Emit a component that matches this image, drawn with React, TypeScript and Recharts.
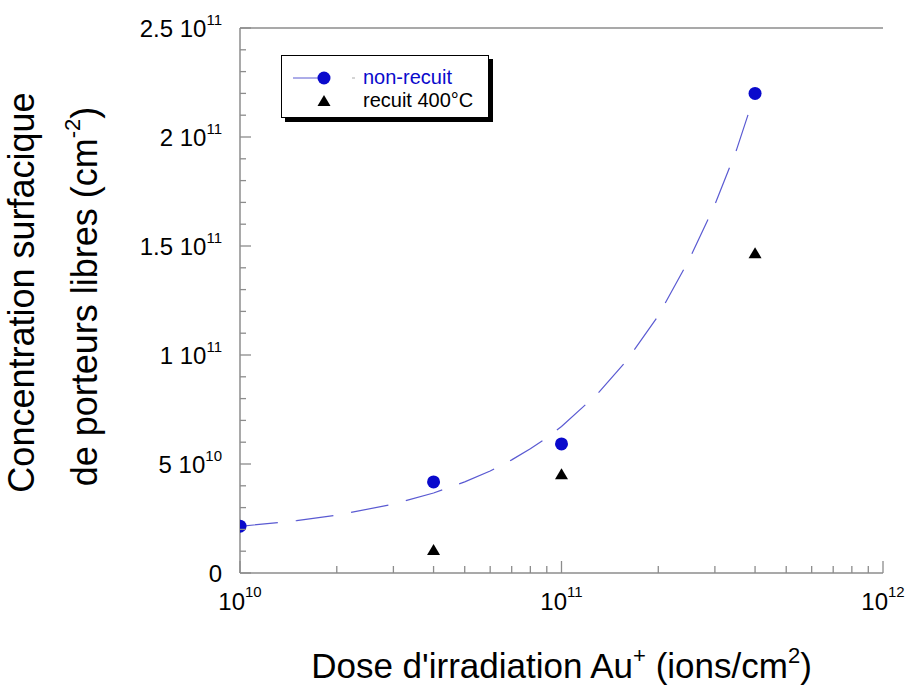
import React from 'react'
import {
  ScatterChart,
  Scatter,
  XAxis,
  YAxis,
  Legend,
} from 'recharts'

// measured points
const doses = [1e10, 4e10, 1e11, 4e11]
const nonRecuit = [2.15e10, 4.18e10, 5.92e10, 2.2e11]
const recuitDoses = [4e10, 1e11, 4e11]
const recuit400 = [1.05e10, 4.53e10, 1.467e11]

// dashed fit curve
const fitDoses = [
  1e10, 1.5e10, 2e10, 3e10, 4e10, 5e10, 6e10, 7e10, 8e10, 9e10, 1e11, 1.3e11,
  1.6e11, 2e11, 2.5e11, 3e11, 3.5e11, 4e11,
]
const fitValues = [
  2.14e10, 2.4e10, 2.65e10, 3.16e10, 3.67e10, 4.18e10, 4.68e10, 5.19e10,
  5.7e10, 6.2e10, 6.72e10, 8.25e10, 9.77e10, 1.18e11, 1.44e11, 1.69e11,
  1.94e11, 2.2e11,
]

// axes
const xTicks = [
  1e10, 2e10, 3e10, 4e10, 5e10, 6e10, 7e10, 8e10, 9e10, 1e11, 2e11, 3e11,
  4e11, 5e11, 6e11, 7e11, 8e11, 9e11, 1e12,
]
const xMajor = [1e10, 1e11, 1e12]
const xMajorExp = ['10', '11', '12']

const yTicks = [
  0, 1e10, 2e10, 3e10, 4e10, 5e10, 6e10, 7e10, 8e10, 9e10, 1e11, 1.1e11,
  1.2e11, 1.3e11, 1.4e11, 1.5e11, 1.6e11, 1.7e11, 1.8e11, 1.9e11, 2e11,
  2.1e11, 2.2e11, 2.3e11, 2.4e11, 2.5e11,
]
const yMajor = [0, 5e10, 1e11, 1.5e11, 2e11, 2.5e11]
const yMajorMantissa = ['0', '5', '1', '1.5', '2', '2.5']
const yMajorExp = ['', '10', '11', '11', '11', '11']

const FONT = "'Liberation Sans', Arial, sans-serif"
const FRAME = '#8c8c8c'
const BLUE = '#0a0acc'
const FIT = '#5a5ad2'

const nonRecuitData = doses.map((x, i) => ({ x, y: nonRecuit[i] }))
const recuitData = recuitDoses.map((x, i) => ({ x, y: recuit400[i] }))
const fitData = fitDoses.map((x, i) => ({ x, y: fitValues[i] }))

const YTick = (side: 'left' | 'right') => (props: any) => {
  const { x, y, payload } = props
  const idx = yMajor.indexOf(payload.value)
  const len = idx >= 0 ? 11 : 6
  const dir = side === 'left' ? 1 : -1
  return (
    <g>
      <line x1={x} y1={y} x2={x + dir * len} y2={y} stroke={FRAME} strokeWidth={1.3} />
      {side === 'left' && idx >= 0 && (
        <text
          x={x - 18}
          y={y + 9}
          textAnchor='end'
          style={{ fontSize: 24, fontFamily: FONT }}
          fill='#000'
        >
          {yMajorMantissa[idx] + (yMajorExp[idx] ? ' 10' : '')}
          {yMajorExp[idx] && (
            <tspan dy={-12} style={{ fontSize: 15 }}>
              {yMajorExp[idx]}
            </tspan>
          )}
        </text>
      )}
    </g>
  )
}

const XTick = (props: any) => {
  const { x, y, payload } = props
  const idx = xMajor.indexOf(payload.value)
  const len = idx >= 0 ? 12 : 7
  return (
    <g>
      <line x1={x} y1={y} x2={x} y2={y - len} stroke={FRAME} strokeWidth={1.3} />
      {idx >= 0 && (
        <text
          x={x}
          y={y + 37}
          textAnchor='middle'
          style={{ fontSize: 24, fontFamily: FONT }}
          fill='#000'
        >
          10
          <tspan dy={-13} style={{ fontSize: 15 }}>
            {xMajorExp[idx]}
          </tspan>
        </text>
      )}
    </g>
  )
}

const Triangle = (props: any) => {
  const { cx, cy } = props
  return (
    <polygon
      points={`${cx},${cy - 6} ${cx - 6.5},${cy + 5} ${cx + 6.5},${cy + 5}`}
      fill='#000'
    />
  )
}

const Dot = (props: any) => {
  const { cx, cy } = props
  return <circle cx={cx} cy={cy} r={6.5} fill={BLUE} />
}

const LegendBox = () => (
  <div
    style={{
      width: 206,
      height: 61,
      border: '1.5px solid #000',
      boxShadow: '4px 4px 0 #000',
      background: '#fff',
      fontFamily: FONT,
      fontSize: 20,
      position: 'relative',
    }}
  >
    <svg width={80} height={60} style={{ position: 'absolute', left: 0, top: 0 }}>
      <line x1={11} y1={22} x2={42} y2={22} stroke={FIT} strokeWidth={1} />
      <circle cx={42} cy={22} r={6.5} fill={BLUE} />
      <line x1={70} y1={22} x2={73} y2={22} stroke='#aaa' strokeWidth={1} />
      <polygon points='42,39 35.5,50 48.5,50' fill='#000' />
    </svg>
    <div style={{ position: 'absolute', left: 81, top: 9, color: BLUE, lineHeight: '24px' }}>
      non-recuit
    </div>
    <div style={{ position: 'absolute', left: 81, top: 32, color: '#000', lineHeight: '24px' }}>
      recuit 400°C
    </div>
  </div>
)

const YTitle = (props: any) => {
  const { viewBox } = props
  const cy = viewBox.y + viewBox.height / 2
  return (
    <g style={{ fontFamily: FONT, fontSize: 36 }} fill='#000'>
      <text
        x={34}
        y={cy - 8}
        transform={`rotate(-90, 34, ${cy - 8})`}
        textAnchor='middle'
      >
        Concentration surfacique
      </text>
      <text
        x={97}
        y={cy - 4}
        transform={`rotate(-90, 97, ${cy - 4})`}
        textAnchor='middle'
      >
        de porteurs libres (cm
        <tspan dy={-17} style={{ fontSize: 22 }}>
          -2
        </tspan>
        <tspan dy={17}>)</tspan>
      </text>
    </g>
  )
}

const XTitle = (props: any) => {
  const { viewBox } = props
  const cx = viewBox.x + viewBox.width / 2
  return (
    <text
      x={cx}
      y={678}
      textAnchor='middle'
      style={{ fontSize: 35, fontFamily: FONT }}
      fill='#000'
    >
      Dose d'irradiation Au
      <tspan dy={-15} style={{ fontSize: 22 }}>
        +
      </tspan>
      <tspan dy={15}>{' '}(ions/cm</tspan>
      <tspan dy={-15} style={{ fontSize: 22 }}>
        2
      </tspan>
      <tspan dy={15}>)</tspan>
    </text>
  )
}

export default function App() {
  return (
    <div
      style={{
        position: 'fixed',
        left: 0,
        top: 0,
        width: 909,
        height: 686,
        background: '#fff',
        fontFamily: FONT,
      }}
    >
      <ScatterChart
        width={909}
        height={686}
        margin={{ top: 27, right: 26, left: 0, bottom: 0 }}
      >
        <XAxis
          xAxisId='b'
          dataKey='x'
          type='number'
          scale='log'
          domain={[1e10, 1e12]}
          allowDataOverflow
          ticks={xTicks}
          interval={0}
          tickSize={0}
          tickMargin={0}
          tick={XTick}
          tickLine={false}
          axisLine={{ stroke: FRAME, strokeWidth: 1.5 }}
          height={113}
          label={<XTitle />}
        />
        <XAxis
          xAxisId='t'
          orientation='top'
          dataKey='x'
          type='number'
          scale='log'
          domain={[1e10, 1e12]}
          allowDataOverflow
          tick={false}
          tickLine={false}
          axisLine={{ stroke: FRAME, strokeWidth: 1.5 }}
          height={1}
        />
        <YAxis
          yAxisId='l'
          dataKey='y'
          type='number'
          domain={[0, 2.5e11]}
          allowDataOverflow
          ticks={yTicks}
          interval={0}
          tickSize={0}
          tickMargin={0}
          tick={YTick('left')}
          tickLine={false}
          axisLine={{ stroke: FRAME, strokeWidth: 1.5 }}
          width={240}
          label={<YTitle />}
        />
        <YAxis
          yAxisId='r'
          orientation='right'
          dataKey='y'
          type='number'
          domain={[0, 2.5e11]}
          allowDataOverflow
          ticks={yTicks}
          interval={0}
          tickSize={0}
          tickMargin={0}
          tick={YTick('right')}
          tickLine={false}
          axisLine={{ stroke: FRAME, strokeWidth: 1.5 }}
          width={0}
        />
        <Legend
          layout='vertical'
          align='center'
          verticalAlign='middle'
          content={<LegendBox />}
          wrapperStyle={{ left: 281, top: 55, width: 'auto' }}
        />
        <Scatter
          name='fit'
          data={fitData}
          xAxisId='b'
          yAxisId='l'
          line={{ stroke: FIT, strokeWidth: 1.2, strokeDasharray: '38 18' }}
          shape={() => <g />}
          legendType='none'
          isAnimationActive={false}
        />
        <Scatter
          name='recuit 400°C'
          data={recuitData}
          xAxisId='b'
          yAxisId='l'
          shape={Triangle}
          isAnimationActive={false}
        />
        <Scatter
          name='non-recuit'
          data={nonRecuitData}
          xAxisId='b'
          yAxisId='l'
          shape={Dot}
          isAnimationActive={false}
        />
      </ScatterChart>
    </div>
  )
}
